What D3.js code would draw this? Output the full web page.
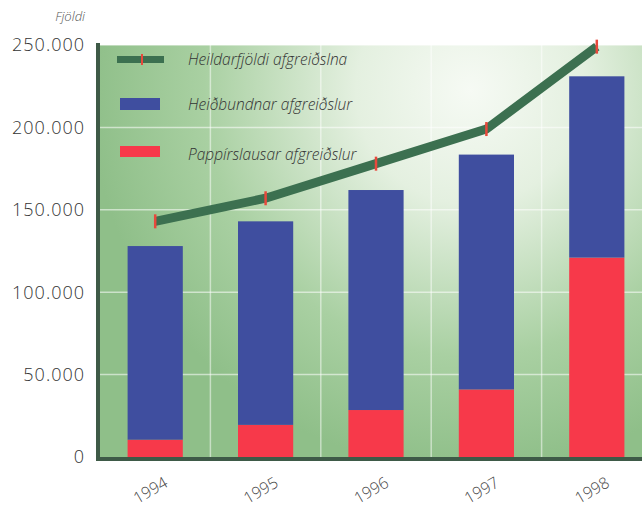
<!DOCTYPE html>
<html><head><meta charset="utf-8">
<script src="https://cdn.jsdelivr.net/npm/d3@7"></script>
<style>body{margin:0;background:#fff}svg{display:block}</style>
</head><body>
<script>
const years = ["1994","1995","1996","1997","1998"];
const paperless = [10500, 19500, 28500, 41000, 121000];
const bound = [117500, 123500, 133500, 142500, 110000];
const totalLine = [143000, 157000, 178000, 199000, 249000];
const yTicks = [0, 50000, 100000, 150000, 200000, 250000];
const yTickLabels = ["0","50.000","100.000","150.000","200.000","250.000"];
const legendLabels = ["Heildarfjöldi afgreiðslna","Heiðbundnar afgreiðslur","Pappírslausar afgreiðslur"];

(function(){
const W = 642, H = 513;
const svg = d3.select("body").append("svg").attr("width", W).attr("height", H);
const defs = svg.append("defs");
const rg = defs.append("radialGradient").attr("id","bg").attr("gradientUnits","userSpaceOnUse")
  .attr("cx", 470).attr("cy", 90).attr("r", 380);
rg.append("stop").attr("offset","0%").attr("stop-color","#f6faf4");
rg.append("stop").attr("offset","30%").attr("stop-color","#e4f0e0");
rg.append("stop").attr("offset","70%").attr("stop-color","#a9d0a2");
rg.append("stop").attr("offset","100%").attr("stop-color","#8fbf89");

const pLeft = 100, pTop = 45, pBottom = 457, pRight = 652;
const y = d3.scaleLinear().domain([0, 250000]).range([pBottom, pTop]);
const x = d3.scaleBand().domain(years).range([pLeft, pRight]).paddingInner(0.5).paddingOuter(0.25);
const gap = (x.step() - x.bandwidth()) / 2;

svg.append("rect").attr("x", pLeft).attr("y", pTop).attr("width", W - pLeft).attr("height", pBottom - pTop).attr("fill","url(#bg)");

svg.append("g").selectAll("line").data(yTicks.slice(1)).join("line")
  .attr("x1", pLeft).attr("x2", W).attr("y1", d => y(d)).attr("y2", d => y(d))
  .attr("stroke","#ffffff").attr("stroke-opacity",0.55).attr("stroke-width",1.5);
svg.append("g").selectAll("line").data(years.slice(1)).join("line")
  .attr("x1", d => x(d) - gap).attr("x2", d => x(d) - gap)
  .attr("y1", pTop).attr("y2", pBottom)
  .attr("stroke","#ffffff").attr("stroke-opacity",0.5).attr("stroke-width",1.5);

const stackData = years.map((yr,i) => ({year: yr, paperless: paperless[i], bound: bound[i]}));
const stack = d3.stack().keys(["paperless","bound"])(stackData);
const colors = {paperless: "#f7394a", bound: "#3f4e9f"};
svg.append("g").selectAll("g").data(stack).join("g").attr("fill", d => colors[d.key])
  .selectAll("rect").data(d => d).join("rect")
  .attr("x", d => x(d.data.year)).attr("width", x.bandwidth())
  .attr("y", d => y(d[1])).attr("height", d => y(d[0]) - y(d[1]));

const cx = (i) => x(years[i]) + x.bandwidth()/2;
const line = d3.line().x((d,i) => cx(i)).y(d => y(d));
svg.append("path").datum(totalLine).attr("d", line).attr("fill","none")
  .attr("stroke","#3c7050").attr("stroke-width",9).attr("stroke-linejoin","miter");
svg.append("g").selectAll("line").data(totalLine).join("line")
  .attr("x1",(d,i)=> cx(i)).attr("x2",(d,i)=> cx(i))
  .attr("y1", d => y(d) - 7).attr("y2", d => y(d) + 7)
  .attr("stroke","#e8483c").attr("stroke-width",2.5);

svg.append("rect").attr("x", 96).attr("y", pTop - 2).attr("width", 4).attr("height", pBottom - pTop + 6).attr("fill","#3e5a47");
svg.append("rect").attr("x", 96).attr("y", pBottom).attr("width", W - 96).attr("height", 4).attr("fill","#3e5a47");

svg.append("g").selectAll("text").data(yTicks).join("text")
  .attr("x", 85).attr("y", d => y(d)).attr("dy","0.35em").attr("text-anchor","end")
  .attr("font-family","Open Sans").attr("font-weight",300).attr("font-size",18).attr("letter-spacing",1)
  .attr("fill","#333").text((d,i) => yTickLabels[i]);

svg.append("text").attr("x", 85).attr("y", 21).attr("text-anchor","end")
  .attr("font-family","Open Sans").attr("font-style","italic").attr("font-weight",300)
  .attr("font-size",13).attr("fill","#555").text("Fjöldi");

svg.append("g").selectAll("text").data(years).join("text")
  .attr("transform", d => `translate(${x(d) + x.bandwidth()/2 - 2},${495}) rotate(-30)`)
  .attr("text-anchor","middle")
  .attr("font-family","Open Sans").attr("font-weight",300).attr("font-size",16)
  .attr("fill","#444").text(d => d);

const lg = svg.append("g");
lg.append("rect").attr("x",117).attr("y",56).attr("width",47).attr("height",7).attr("fill","#3c7050");
lg.append("line").attr("x1",142).attr("x2",142).attr("y1",54).attr("y2",65).attr("stroke","#e8483c").attr("stroke-width",2);
lg.append("rect").attr("x",120).attr("y",98).attr("width",40).attr("height",12).attr("fill","#3f4e9f");
lg.append("rect").attr("x",120).attr("y",146).attr("width",40).attr("height",11).attr("fill","#f7394a");
lg.selectAll("text").data(legendLabels).join("text")
  .attr("x",188).attr("y",(d,i)=>[60,105,155][i]).attr("dy","0.35em")
  .attr("font-family","Open Sans").attr("font-style","italic").attr("font-weight",300)
  .attr("font-size",15.5).attr("fill","#333").text(d => d);
})();
</script>
</body></html>
